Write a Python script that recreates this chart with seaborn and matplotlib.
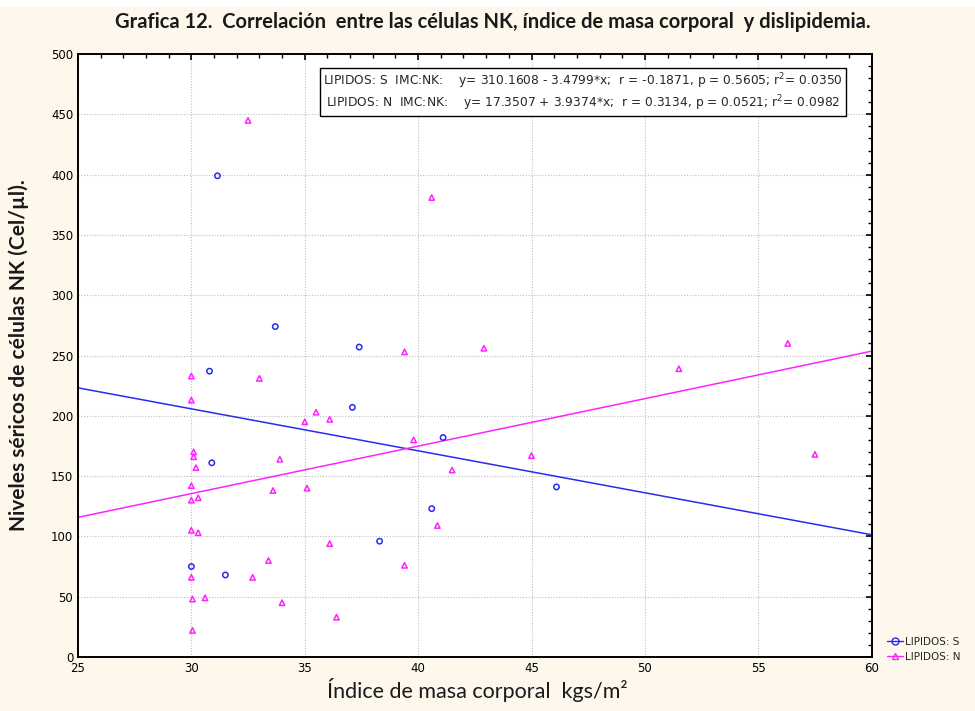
import numpy as np
import pandas as pd
import matplotlib
matplotlib.use("Agg")
import matplotlib.pyplot as plt
from matplotlib.lines import Line2D
from matplotlib.ticker import MultipleLocator
import seaborn as sns

# ---- data ----
imc_S = [31.15, 33.7, 30.8, 37.4, 37.1, 41.1, 30.9, 40.6, 38.3, 30.0, 31.5, 46.1]
nk_S = [399, 274, 237, 257, 207, 182, 161, 123, 96, 75, 68, 141]

imc_N = [32.5, 40.6, 42.9, 39.4, 56.3, 51.5, 45.0, 57.5, 41.5,
         30.0, 33.0, 30.0, 35.5, 35.0, 36.1, 39.8, 30.1, 30.1, 33.9,
         30.2, 30.0, 33.6, 35.1, 30.3, 30.0, 30.0, 30.3, 36.1, 33.4,
         39.4, 30.0, 32.7, 30.05, 30.6, 34.0, 36.4, 30.05, 40.85]
nk_N = [445, 381, 256, 253, 260, 239, 167, 168, 155,
        233, 231, 213, 203, 195, 197, 180, 170, 166, 164,
        157, 142, 138, 140, 132, 130, 105, 103, 94, 80,
        76, 66, 66, 48, 49, 45, 33, 22, 109]

# regression coefficients reported in the chart
coef_S = (310.1608, -3.4799)
coef_N = (17.3507, 3.9374)
x_range = [25, 60]

groups = ["LIPIDOS: S", "LIPIDOS: N"]
colors = {"LIPIDOS: S": "#2a2af0", "LIPIDOS: N": "#ff22ff"}
markers = {"LIPIDOS: S": "o", "LIPIDOS: N": "^"}

box_lines = [
    "LIPIDOS: S  IMC:NK:    y= 310.1608 - 3.4799*x;  r = -0.1871, p = 0.5605; r$^2$= 0.0350",
    "LIPIDOS: N  IMC:NK:    y= 17.3507 + 3.9374*x;  r = 0.3134, p = 0.0521; r$^2$= 0.0982",
]

df = pd.DataFrame({
    "IMC": imc_S + imc_N,
    "NK": nk_S + nk_N,
    "grupo": [groups[0]] * len(imc_S) + [groups[1]] * len(imc_N),
})

lines_df = pd.DataFrame({
    "IMC": x_range * 2,
    "NK": [coef_S[0] + coef_S[1] * x for x in x_range] + [coef_N[0] + coef_N[1] * x for x in x_range],
    "grupo": [groups[0]] * 2 + [groups[1]] * 2,
})

sns.set_style("white")
plt.rcParams["font.family"] = ["DejaVu Sans"]

fig = plt.figure(figsize=(9.75, 7.11), dpi=100, facecolor="#fdf7ec")
fig.patches.append(plt.Rectangle((0, 0.99), 1, 0.01, transform=fig.transFigure,
                                 facecolor="white", edgecolor="none", zorder=0))
ax = fig.add_axes([0.080, 0.076, 0.814, 0.848])
ax.set_facecolor("white")

for g in groups:
    sub = lines_df[lines_df.grupo == g]
    sns.lineplot(data=sub, x="IMC", y="NK", ax=ax, color=colors[g], linewidth=1.1,
                 legend=False, zorder=2)

for g in groups:
    sub = df[df.grupo == g]
    n0 = len(ax.collections)
    sns.scatterplot(data=sub, x="IMC", y="NK", ax=ax, marker=markers[g], s=15,
                    color=colors[g], legend=False, zorder=3)
    for c in ax.collections[n0:]:
        c.set_facecolor("none")
        c.set_edgecolor(colors[g])
        c.set_linewidth(1.1)

ax.set_xlim(25, 60)
ax.set_ylim(0, 500)
ax.xaxis.set_major_locator(MultipleLocator(5))
ax.xaxis.set_minor_locator(MultipleLocator(1))
ax.yaxis.set_major_locator(MultipleLocator(50))
ax.yaxis.set_minor_locator(MultipleLocator(10))
ax.grid(True, which="major", linestyle=(0, (1, 1.5)), color="#bdbdbd", linewidth=0.8)
ax.tick_params(which="both", direction="in", top=True, right=True, colors="black",
               labelsize=8.5)
ax.tick_params(which="major", length=4, width=1.2)
ax.tick_params(which="minor", length=3, width=1.0)
for sp in ax.spines.values():
    sp.set_color("black")
    sp.set_linewidth(1.4)

ax.set_xlabel("")
ax.set_ylabel("")
fig.text(0.490, 0.030, "Índice de masa corporal  kgs/m²", ha="center", va="center",
         fontsize=15.5, family=["Lato", "DejaVu Sans"], color="#1a1a1a")
fig.text(0.019, 0.50, "Niveles séricos de células NK (Cel/µl).", ha="center", va="center",
         rotation=90, fontsize=15, fontweight="bold", family=["Lato", "DejaVu Sans"],
         color="#1a1a1a")
fig.text(0.505, 0.969, "Grafica 12.  Correlación  entre las células NK, índice de masa corporal  y dislipidemia.",
         ha="center", va="center", fontsize=14.5, fontweight="bold",
         family=["Lato", "DejaVu Sans"], color="#1a1a1a")

# info box
ax.text(0.636, 0.937, "\n".join(box_lines), transform=ax.transAxes, ha="center", va="center",
        fontsize=8.8, linespacing=1.15,
        bbox=dict(facecolor="white", edgecolor="black", linewidth=1.0, boxstyle="square,pad=0.25"),
        zorder=5)

# legend
handles = [Line2D([0], [0], color=colors[g], marker=markers[g], markerfacecolor="none",
                  markeredgecolor=colors[g], markersize=5, linewidth=1) for g in groups]
fig.legend(handles, groups, loc="center left", bbox_to_anchor=(0.905, 0.087),
           frameon=False, fontsize=7.5, handlelength=1.6, handletextpad=0.2,
           labelspacing=0.5, borderaxespad=0)

fig.savefig("out.png", dpi=100, facecolor=fig.get_facecolor())
